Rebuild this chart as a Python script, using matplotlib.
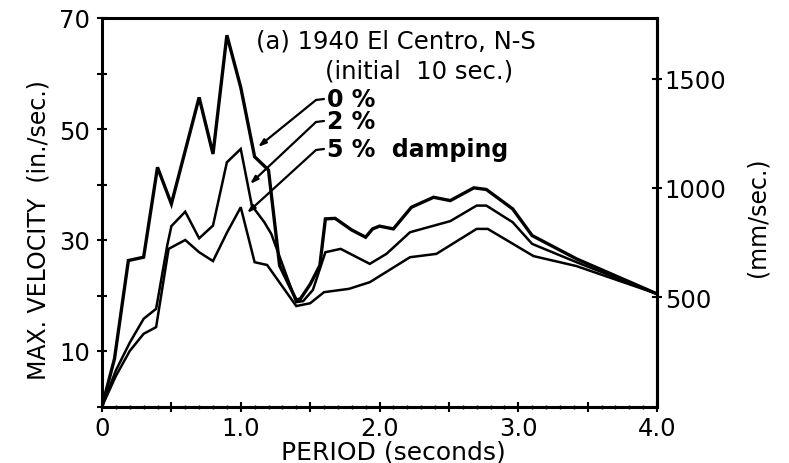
import matplotlib
matplotlib.use("Agg")
import matplotlib.pyplot as plt
import numpy as np

# ---- data ----
period_0 = [0.0, 0.09, 0.19, 0.30, 0.40, 0.50, 0.70, 0.80, 0.90, 1.00, 1.10, 1.20, 1.28,
            1.40, 1.43, 1.50, 1.57, 1.61, 1.68, 1.80, 1.90, 1.95, 2.00, 2.10, 2.23, 2.39,
            2.51, 2.68, 2.77, 2.96, 3.10, 3.42, 4.00]
vel_0 = [0.0, 8.6, 26.3, 26.9, 43.1, 36.5, 55.7, 45.5, 66.9, 57.5, 45.0, 42.6, 25.4,
         19.2, 19.4, 22.0, 25.4, 33.8, 33.9, 31.8, 30.5, 32.0, 32.5, 32.0, 35.9, 37.7,
         37.1, 39.4, 39.1, 35.6, 30.8, 26.6, 20.3]

period_2 = [0.0, 0.10, 0.20, 0.30, 0.39, 0.47, 0.50, 0.60, 0.70, 0.80, 0.90, 1.00, 1.08,
            1.17, 1.22, 1.40, 1.45, 1.52, 1.61, 1.72, 1.93, 2.05, 2.22, 2.51, 2.70, 2.77,
            2.96, 3.10, 3.42, 4.00]
vel_2 = [0.0, 6.5, 11.5, 15.8, 17.6, 29.0, 32.5, 35.1, 30.3, 32.6, 44.0, 46.4, 36.2,
         33.2, 31.1, 18.8, 19.0, 21.0, 27.8, 28.4, 25.7, 27.5, 31.4, 33.4, 36.2, 36.2,
         33.2, 29.3, 26.0, 20.3]

period_5 = [0.0, 0.10, 0.20, 0.30, 0.39, 0.48, 0.60, 0.70, 0.80, 0.90, 1.00, 1.10, 1.19,
            1.40, 1.50, 1.60, 1.78, 1.93, 2.22, 2.41, 2.70, 2.78, 3.11, 3.42, 4.00]
vel_5 = [0.0, 5.5, 10.0, 13.1, 14.3, 28.4, 30.0, 27.8, 26.2, 31.3, 35.9, 26.0, 25.5,
         18.1, 18.6, 20.6, 21.2, 22.4, 26.9, 27.5, 32.0, 32.0, 27.1, 25.3, 20.3]

x_ticklabels = ["0", "", "1.0", "", "2.0", "", "3.0", "", "4.0"]
y_ticklabels_in = [10, 30, 50, 70]
y_ticks_mm = [500, 1000, 1500]
damping_labels = ["0 %", "2 %", "5 %  damping"]
IN_TO_MM = 25.4

plt.rcParams["font.family"] = ["DejaVu Sans"]

fig = plt.figure(figsize=(7.89, 4.64), dpi=100)
ax = fig.add_axes([102/789, 1 - 407.5/464, (657-102)/789, (407.5-19)/464])

ax.plot(period_0, vel_0, color="black", lw=2.4, solid_joinstyle="miter")
ax.plot(period_2, vel_2, color="black", lw=1.8, solid_joinstyle="miter")
ax.plot(period_5, vel_5, color="black", lw=1.8, solid_joinstyle="miter")

ax.set_xlim(0, 4)
ax.set_ylim(0, 70)

for s in ax.spines.values():
    s.set_linewidth(2.2)

ax.set_xticks(np.arange(0, 4.01, 0.5))
ax.set_xticklabels(x_ticklabels, fontsize=17.5)
ax.set_xticks(np.arange(0, 4.01, 0.1), minor=True)
ax.set_yticks(np.arange(0, 71, 10))
ax.set_yticklabels(["" if v not in y_ticklabels_in else str(v) for v in range(0, 71, 10)],
                   fontsize=17.5)
ax.tick_params(axis="both", which="major", direction="inout", length=7, width=1.5, pad=3)
ax.tick_params(axis="x", which="minor", direction="inout", length=3, width=1)
ax.tick_params(axis="y", which="major", pad=5)

sec = ax.secondary_yaxis("right", functions=(lambda v: v*IN_TO_MM, lambda v: v/IN_TO_MM))
sec.set_yticks(y_ticks_mm)
sec.set_yticklabels([str(v) for v in y_ticks_mm], fontsize=17.5)
sec.tick_params(direction="inout", length=7, width=1.5, pad=2)
sec.spines["right"].set_linewidth(2.2)

ax.set_xlabel("PERIOD (seconds)", fontsize=18, labelpad=0)
ax.xaxis.label.set_x((393 - 102) / 555)
ax.set_ylabel("MAX. VELOCITY  (in./sec.)", fontsize=17, labelpad=6)
ax.yaxis.label.set_y((407.5 - 230) / 388.5)
fig.text(758/789, 1 - 217/464, "(mm/sec.)", rotation=90, fontsize=17,
         ha="center", va="center")

def px2data(px, py):
    return ((px - 102) / 138.75, (407.5 - py) / 5.55)

ax.text(*px2data(256, 42), "(a) 1940 El Centro, N-S", fontsize=17.5, ha="left", va="center")
ax.text(*px2data(325, 71), "(initial  10 sec.)", fontsize=17.5, ha="left", va="center")

# label text position (px), bend point (px), arrow end (px)
label_geom = [((327, 100), (316, 101), (258, 148)),
              ((327, 122), (316, 123), (250, 185)),
              ((327, 150), (316, 151), (247, 214))]
for txt, ((tx, ty), (bx, by), (ex, ey)) in zip(damping_labels, label_geom):
    ax.text(*px2data(tx, ty), txt, fontsize=17, fontweight="bold", ha="left", va="center")
    x0, y0 = px2data(bx, by)
    x1, y1 = px2data(tx - 3, ty)
    ax.plot([x0, x1], [y0, y1], color="black", lw=1.6, solid_capstyle="round")
    ax.annotate("", xy=px2data(ex, ey), xytext=(x0, y0),
                arrowprops=dict(arrowstyle="-|>,head_length=0.45,head_width=0.15",
                                color="black", lw=1.6, shrinkA=0, shrinkB=0))

fig.savefig("out.png", dpi=100)
